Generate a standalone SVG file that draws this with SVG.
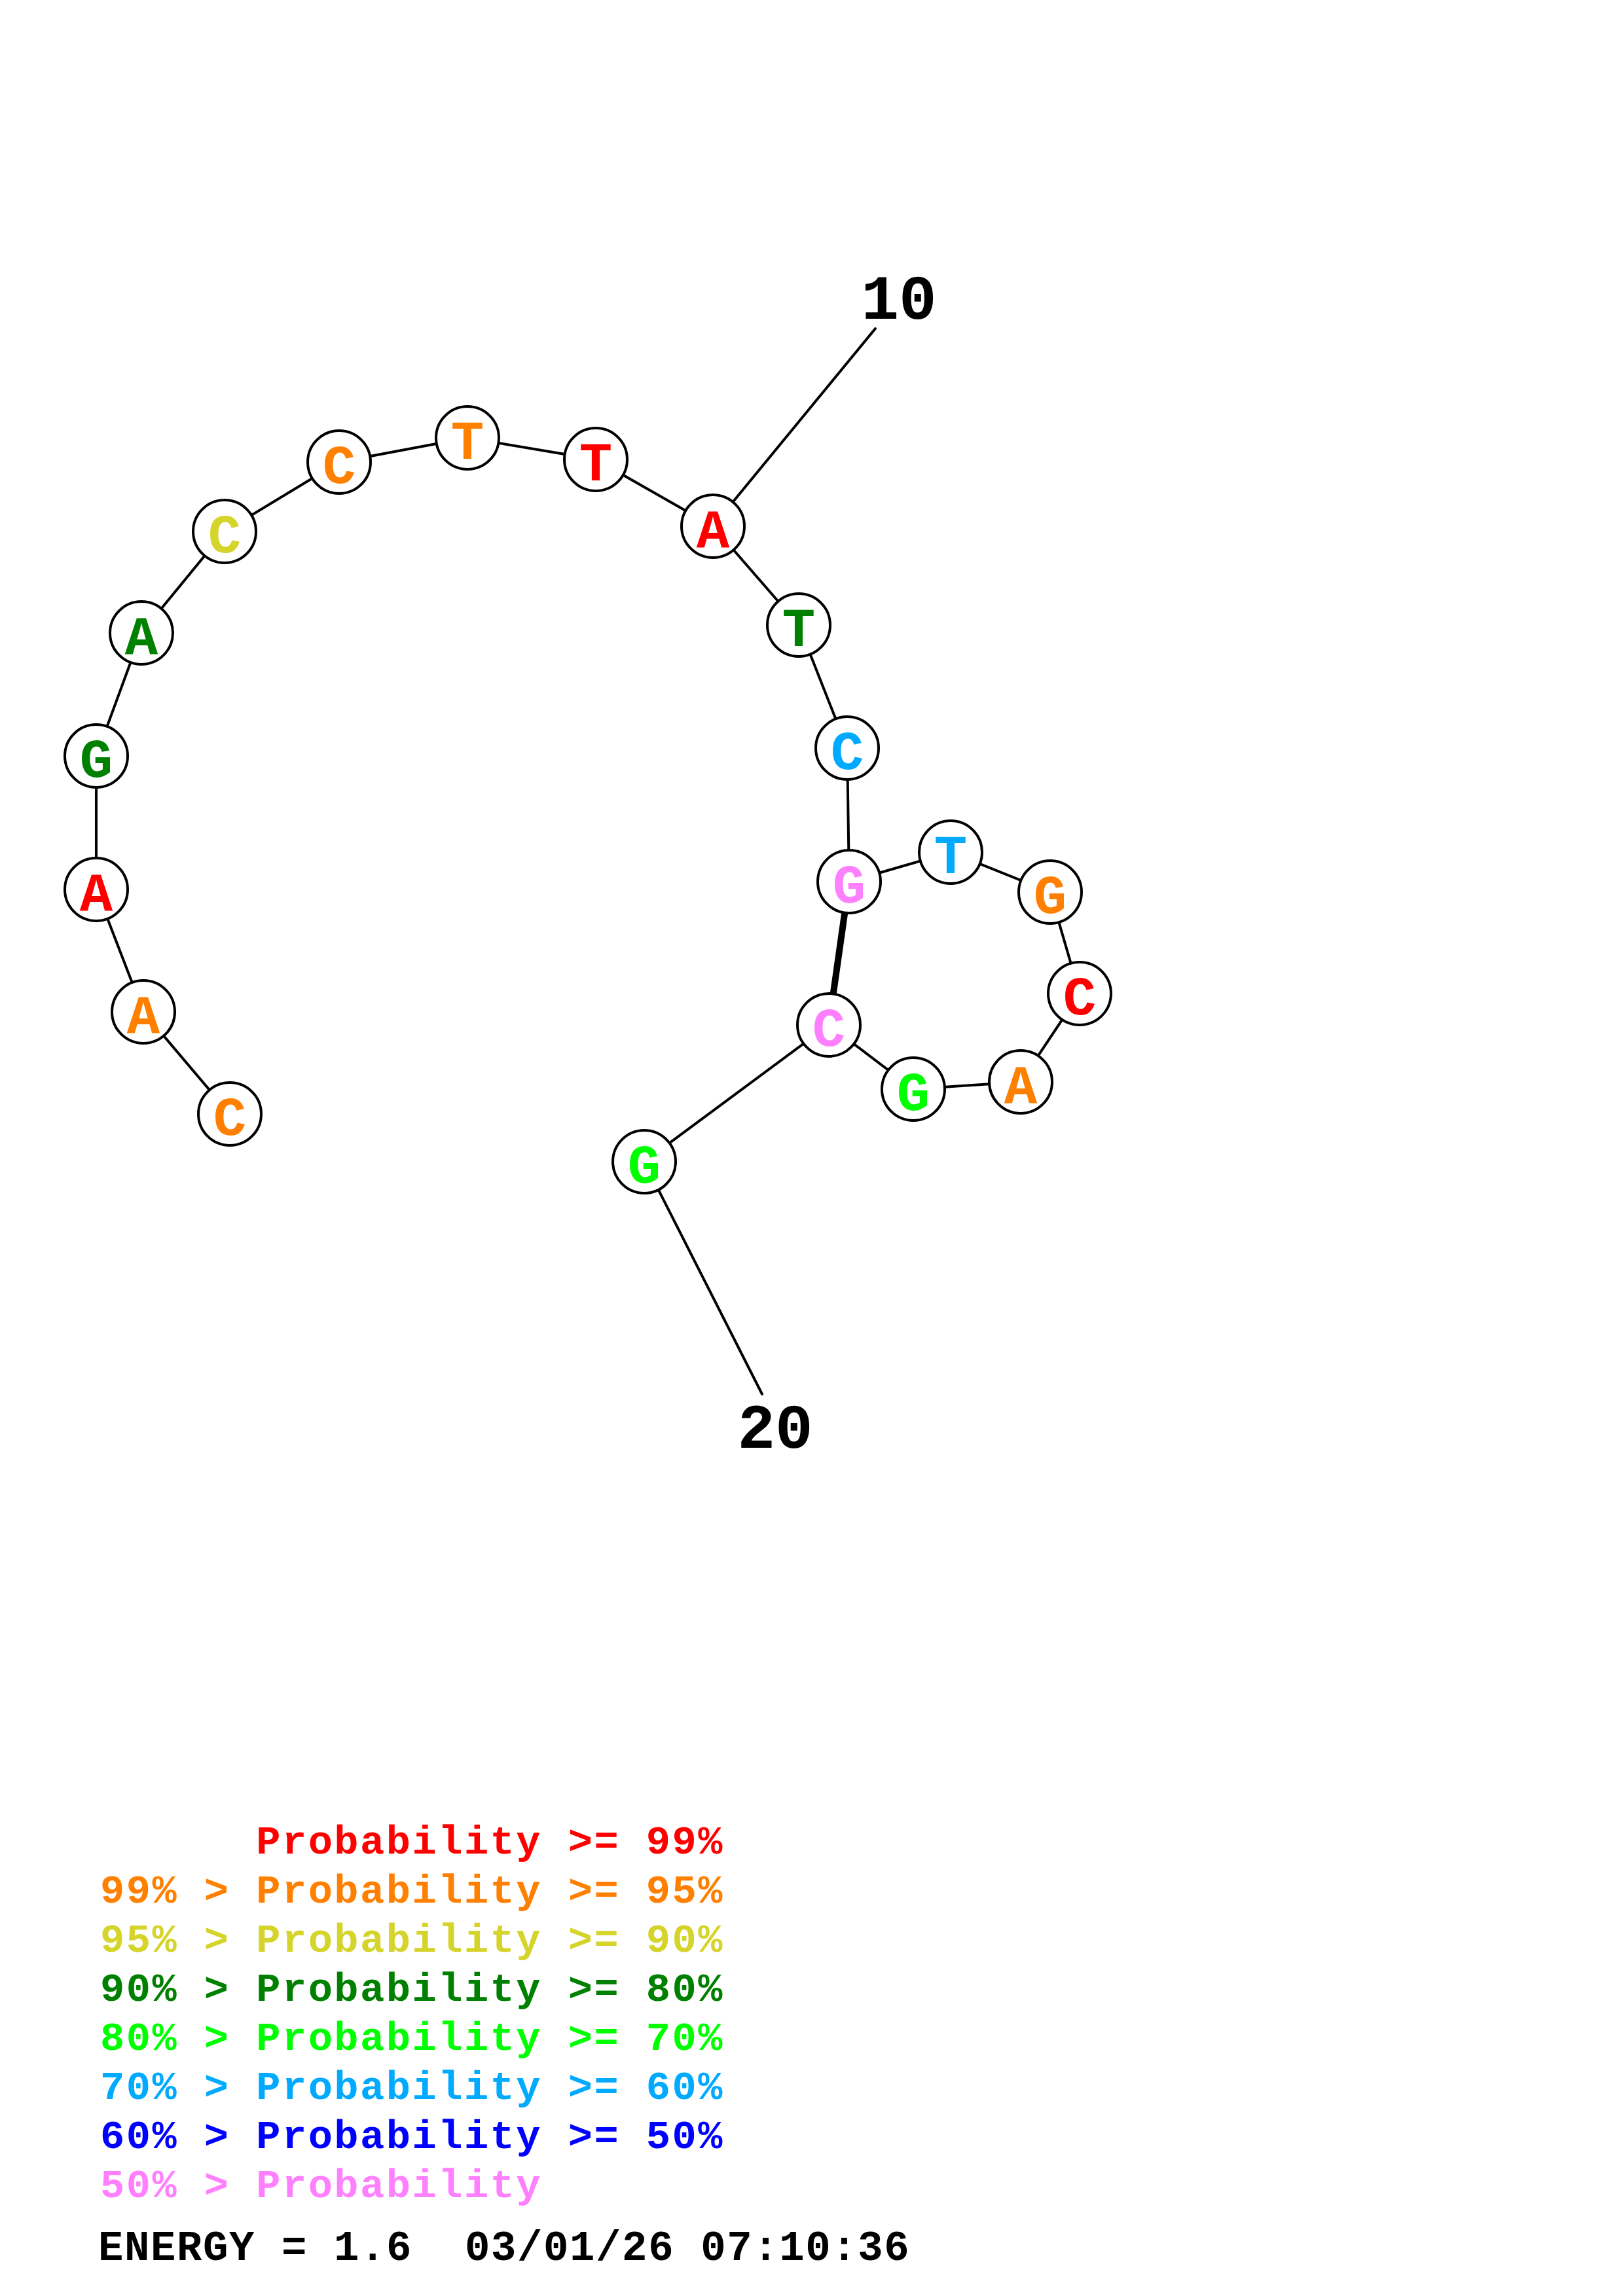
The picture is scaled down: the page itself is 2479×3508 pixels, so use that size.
<svg xmlns="http://www.w3.org/2000/svg" width="2479" height="3508" viewBox="0 0 2479 3508">
<style>
.bb{stroke:#000;stroke-width:4;fill:none;stroke-linecap:round}
.pair{stroke:#000;stroke-width:10;fill:none}
.nc{fill:#fff;stroke:#000;stroke-width:4}
.nl{font-family:"Liberation Mono","Courier New",monospace;font-weight:bold;font-size:84px;text-anchor:middle}
.num{font-family:"Liberation Mono","Courier New",monospace;font-weight:bold;font-size:96px;text-anchor:middle;fill:#000}
.lg{font-family:"Liberation Mono","Courier New",monospace;font-weight:bold;font-size:62px;letter-spacing:2.5px;white-space:pre}
.en{font-family:"Liberation Mono","Courier New",monospace;font-weight:bold;font-size:64px;letter-spacing:1.6px;white-space:pre;fill:#000}
.red{fill:#FF0000}.org{fill:#FF8000}.yel{fill:#D4D42A}.dgr{fill:#008000}.grn{fill:#00FF00}.lbl{fill:#00AAFF}.blu{fill:#0000FF}.pnk{fill:#FF80FF}
</style>
<rect width="2479" height="3508" fill="#fff"/>
<g id="connectors">
<polyline class="bb" points="351,1702 219,1546 147,1359 147,1155 216,967 343,812 518,706 714,669 910,702 1089,804 1220,955 1294,1143 1297,1347 1452,1302 1604,1363 1649,1518 1559,1653 1395,1664 1266,1566 984,1775"/>
<line class="pair" x1="1297" y1="1347" x2="1266" y2="1566"/>
<line class="bb" x1="1089" y1="804" x2="1337" y2="502"/>
<line class="bb" x1="984" y1="1775" x2="1164" y2="2130"/>
</g>
<g id="n1"><circle class="nc" cx="351" cy="1702" r="48"/><text class="nl org" x="351" y="1734">C</text></g>
<g id="n2"><circle class="nc" cx="219" cy="1546" r="48"/><text class="nl org" x="219" y="1578">A</text></g>
<g id="n3"><circle class="nc" cx="147" cy="1359" r="48"/><text class="nl red" x="147" y="1391">A</text></g>
<g id="n4"><circle class="nc" cx="147" cy="1155" r="48"/><text class="nl dgr" x="147" y="1187">G</text></g>
<g id="n5"><circle class="nc" cx="216" cy="967" r="48"/><text class="nl dgr" x="216" y="999">A</text></g>
<g id="n6"><circle class="nc" cx="343" cy="812" r="48"/><text class="nl yel" x="343" y="844">C</text></g>
<g id="n7"><circle class="nc" cx="518" cy="706" r="48"/><text class="nl org" x="518" y="738">C</text></g>
<g id="n8"><circle class="nc" cx="714" cy="669" r="48"/><text class="nl org" x="714" y="701">T</text></g>
<g id="n9"><circle class="nc" cx="910" cy="702" r="48"/><text class="nl red" x="910" y="734">T</text></g>
<g id="n10"><circle class="nc" cx="1089" cy="804" r="48"/><text class="nl red" x="1089" y="836">A</text></g>
<g id="n11"><circle class="nc" cx="1220" cy="955" r="48"/><text class="nl dgr" x="1220" y="987">T</text></g>
<g id="n12"><circle class="nc" cx="1294" cy="1143" r="48"/><text class="nl lbl" x="1294" y="1175">C</text></g>
<g id="n13"><circle class="nc" cx="1297" cy="1347" r="48"/><text class="nl pnk" x="1297" y="1379">G</text></g>
<g id="n14"><circle class="nc" cx="1452" cy="1302" r="48"/><text class="nl lbl" x="1452" y="1334">T</text></g>
<g id="n15"><circle class="nc" cx="1604" cy="1363" r="48"/><text class="nl org" x="1604" y="1395">G</text></g>
<g id="n16"><circle class="nc" cx="1649" cy="1518" r="48"/><text class="nl red" x="1649" y="1550">C</text></g>
<g id="n17"><circle class="nc" cx="1559" cy="1653" r="48"/><text class="nl org" x="1559" y="1685">A</text></g>
<g id="n18"><circle class="nc" cx="1395" cy="1664" r="48"/><text class="nl grn" x="1395" y="1696">G</text></g>
<g id="n19"><circle class="nc" cx="1266" cy="1566" r="48"/><text class="nl pnk" x="1266" y="1598">C</text></g>
<g id="n20"><circle class="nc" cx="984" cy="1775" r="48"/><text class="nl grn" x="984" y="1807">G</text></g>
<g id="labels">
<text class="num" x="1373" y="487">10</text>
<text class="num" x="1184" y="2212">20</text>
</g>
<g id="legend">
<text class="lg red" x="153" y="2832">      Probability &gt;= 99%</text>
<text class="lg org" x="153" y="2907">99% &gt; Probability &gt;= 95%</text>
<text class="lg yel" x="153" y="2982">95% &gt; Probability &gt;= 90%</text>
<text class="lg dgr" x="153" y="3057">90% &gt; Probability &gt;= 80%</text>
<text class="lg grn" x="153" y="3132">80% &gt; Probability &gt;= 70%</text>
<text class="lg lbl" x="153" y="3207">70% &gt; Probability &gt;= 60%</text>
<text class="lg blu" x="153" y="3282">60% &gt; Probability &gt;= 50%</text>
<text class="lg pnk" x="153" y="3357">50% &gt; Probability</text>
<text class="en" x="150" y="3453">ENERGY = 1.6  03/01/26 07:10:36</text>
</g>
</svg>
